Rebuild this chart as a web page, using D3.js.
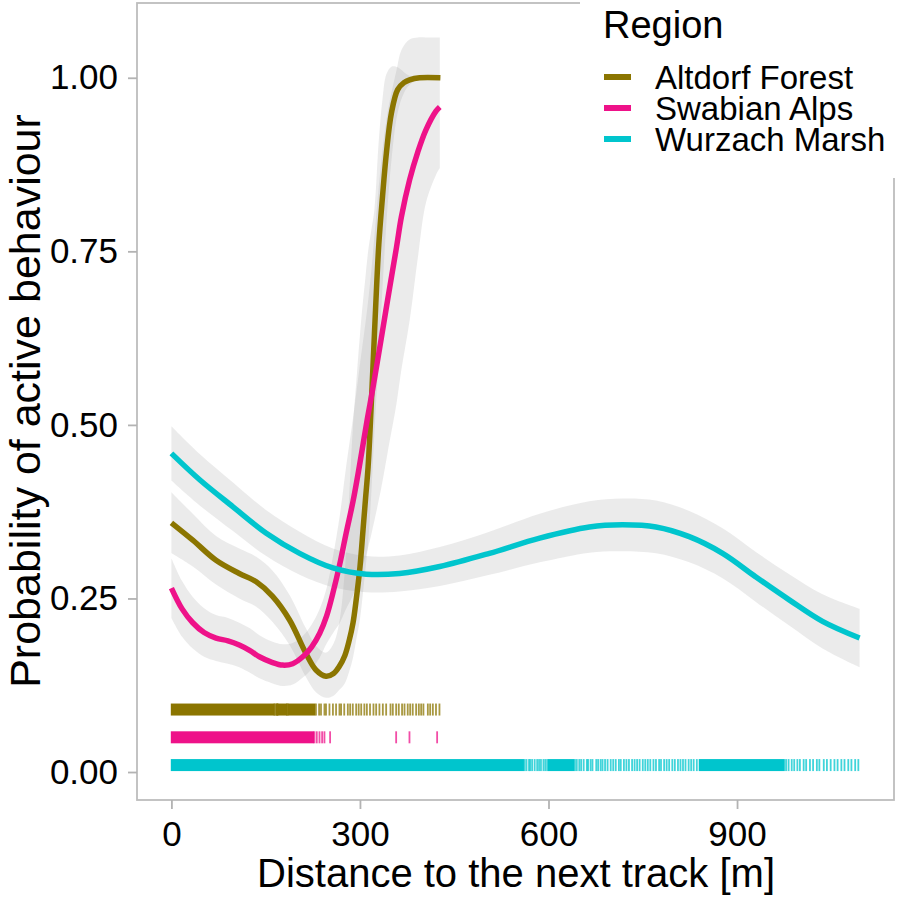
<!DOCTYPE html>
<html><head><meta charset="utf-8">
<script src="https://cdn.jsdelivr.net/npm/d3@7"></script>
<style>body{margin:0;background:#fff}svg{display:block}text{font-family:"Liberation Sans",Arial,sans-serif}</style>
</head><body><svg id="c" width="898" height="901"></svg>
<script>
// ---- data ----
const regions = ["Altdorf Forest", "Swabian Alps", "Wurzach Marsh"];
const colors = ["#8B7500", "#EE1289", "#00C5CD"];
const xTicks = [0, 300, 600, 900];
const yTicks = [0, 0.25, 0.5, 0.75, 1];

const goldX  = [0,34,71,108,135,161,188,214,230,246,258,267,276,283,289,294,300,305,309,313,318,323,330,336,342,350,360,370,379,395,428];
const goldY  = [0.359,0.334,0.305,0.286,0.274,0.253,0.219,0.171,0.147,0.138,0.142,0.152,0.168,0.19,0.215,0.248,0.295,0.35,0.395,0.44,0.53,0.63,0.76,0.83,0.891,0.949,0.983,0.993,0.997,1.0,1.0];
const goldHi = [0.403,0.372,0.340,0.322,0.31,0.29,0.255,0.207,0.182,0.172,0.185,0.215,0.29,0.4,0.5,0.56,0.63,0.68,0.715,0.75,0.78,0.81,0.91,0.97,1.005,1.016,1.015,1.008,1.003,1.001,1.001];
const goldLo = [0.315,0.296,0.27,0.25,0.238,0.216,0.183,0.137,0.115,0.107,0.11,0.118,0.128,0.145,0.165,0.19,0.22,0.26,0.295,0.33,0.4,0.49,0.6,0.7,0.79,0.88,0.95,0.978,0.99,0.998,0.999];

const pinkX  = [0,17,34,52,71,90,108,125,140,160,177,193,209,223,236,247,257,268,278,289,299,312,320,334,344,358,366,379,392,405,421,427];
const pinkY  = [0.265,0.235,0.215,0.201,0.193,0.189,0.183,0.175,0.166,0.158,0.154,0.156,0.166,0.18,0.2,0.225,0.258,0.3,0.344,0.39,0.44,0.51,0.55,0.625,0.68,0.755,0.80,0.853,0.893,0.925,0.952,0.958];
const pinkHi = [0.308,0.275,0.252,0.236,0.226,0.222,0.215,0.207,0.197,0.188,0.184,0.186,0.196,0.212,0.235,0.265,0.31,0.37,0.44,0.51,0.58,0.67,0.74,0.88,0.95,1.01,1.04,1.055,1.058,1.058,1.058,1.058];
const pinkLo = [0.222,0.195,0.178,0.166,0.16,0.156,0.151,0.143,0.135,0.128,0.124,0.126,0.136,0.148,0.165,0.185,0.2,0.215,0.235,0.255,0.28,0.32,0.35,0.41,0.46,0.53,0.58,0.65,0.74,0.82,0.86,0.87];

const cyanX  = [0,45,98,151,204,257,310,363,427,506,586,665,718,771,824,877,930,983,1036,1095];
const cyanY  = [0.459,0.421,0.382,0.344,0.315,0.294,0.285,0.286,0.296,0.315,0.337,0.353,0.356,0.353,0.339,0.315,0.281,0.248,0.217,0.193];
const cyanHi = [0.498,0.458,0.417,0.377,0.346,0.322,0.311,0.312,0.324,0.346,0.372,0.390,0.394,0.391,0.376,0.351,0.317,0.285,0.256,0.235];
const cyanLo = [0.420,0.384,0.347,0.311,0.284,0.266,0.259,0.260,0.268,0.284,0.302,0.316,0.318,0.315,0.302,0.279,0.245,0.211,0.178,0.151];

// rug (observation distances): dense stretches and single marks
const rugLevel = [0.09, 0.05, 0.01];
const goldRugDense = [[0,163],[167,183],[186,228]];
const goldRugTicks = [164,165,168,169,184,185,230,235,238,243.5,246,251.5,257,262,267.4,270,275,280.7,284.4,288.6,294,298,302,307,311,316,321.5,325.8,331,336.4,341.7,348.6,352.3,357.6,361.8,367,370.9,376,379.9,384,389.4,393.7,397.4,401,408,411.7,416,421,426.5];
const pinkRugDense = [[0,226]];
const pinkRugTicks = [227.6,231.3,235.6,239.8,243.5,252.5,357.6,378.8,422.8];
const cyanRugDense = [[0,560],[600,640],[840,975]];
const cyanRugTicks = [562,565,569,571,574,578,582,585,588,592,595,598,642,645,649,652,656,661,663,667,670,676,679,683,686,690,694,699,703,707,712,715,720,724,728,733,737,741,745,750,754,758,762,767,771,776,779,784,788,792,797,801,806,810,814,818,823,827,831,836,978,982,987,991,996,1000,1006,1010,1016,1021,1027,1031,1038,1043,1049,1055,1060,1066,1071,1077,1082,1088,1093];

// ---- drawing ----
const svg = d3.select("#c");
const x = d3.scaleLinear().domain([-54.75, 1149.75]).range([137, 894]);
const y = d3.scaleLinear().domain([-0.0403, 1.1077]).range([800, 3]);

const series = [
  {xs: goldX, ys: goldY, lo: goldLo, hi: goldHi, dense: goldRugDense, ticks: goldRugTicks},
  {xs: pinkX, ys: pinkY, lo: pinkLo, hi: pinkHi, dense: pinkRugDense, ticks: pinkRugTicks},
  {xs: cyanX, ys: cyanY, lo: cyanLo, hi: cyanHi, dense: cyanRugDense, ticks: cyanRugTicks}
];
const curve = d3.curveCatmullRom.alpha(0.5);

// panel border
svg.append("rect").attr("x",137).attr("y",3).attr("width",757).attr("height",797)
  .attr("fill","none").attr("stroke","#BDBDBD").attr("stroke-width",1.8);

// rug
series.forEach((s,i)=>{
  const g = svg.append("g");
  const yc = y(rugLevel[i]);
  g.selectAll("rect.d").data(s.dense).join("rect")
    .attr("x",d=>x(d[0])-0.6).attr("width",d=>x(d[1])-x(d[0])+1.2)
    .attr("y",yc-6).attr("height",12).attr("fill",colors[i]);
  g.selectAll("rect.t").data(s.ticks).join("rect")
    .attr("x",d=>x(d)-0.9).attr("width",1.8)
    .attr("y",yc-6).attr("height",12).attr("fill",colors[i]).attr("opacity",0.75);
});

// bands
series.forEach((s)=>{
  const pts = s.xs.map((d,j)=>[x(d), y(s.lo[j]), y(s.hi[j])]);
  svg.append("path").attr("d", d3.area().curve(curve).x(p=>p[0]).y0(p=>p[1]).y1(p=>p[2])(pts))
    .attr("fill","#999999").attr("opacity",0.2);
});
// lines
series.forEach((s,i)=>{
  const pts = s.xs.map((d,j)=>[x(d), y(s.ys[j])]);
  svg.append("path").attr("d", d3.line().curve(curve)(pts))
    .attr("fill","none").attr("stroke",colors[i]).attr("stroke-width",5.5);
});

// axes
const yAxis = svg.append("g").attr("transform","translate(137,0)")
  .call(d3.axisLeft(y).tickValues(yTicks).tickFormat(d3.format(".2f")).tickSize(9).tickPadding(10));
const xAxis = svg.append("g").attr("transform","translate(0,800)")
  .call(d3.axisBottom(x).tickValues(xTicks).tickFormat(d3.format("d")).tickSize(9).tickPadding(12));
[yAxis,xAxis].forEach(a=>{
  a.select(".domain").remove();
  a.selectAll(".tick line").attr("stroke","#B3B3B3").attr("stroke-width",1.8);
  a.selectAll(".tick text").attr("fill","#000").style("font-size","35px").style("font-family","'Liberation Sans',Arial,sans-serif");
});

// axis titles
svg.append("text").attr("x",516).attr("y",887).attr("text-anchor","middle")
  .style("font-size","40px").text("Distance to the next track [m]");
svg.append("text").attr("transform","translate(40,401) rotate(-90)").attr("text-anchor","middle")
  .style("font-size","43px").text("Probability of active behaviour");

// legend
const lg = svg.append("g");
lg.append("rect").attr("x",580).attr("y",0).attr("width",318).attr("height",178).attr("fill","#fff");
lg.append("text").attr("x",603).attr("y",38).style("font-size","38px").text("Region");
const rowBase = [89, 120, 151];
regions.forEach((r,i)=>{
  lg.append("line").attr("x1",604).attr("x2",631).attr("y1",rowBase[i]-12).attr("y2",rowBase[i]-12)
    .attr("stroke",colors[i]).attr("stroke-width",6);
  lg.append("text").attr("x",655).attr("y",rowBase[i]).style("font-size","33px").text(r);
});
</script></body></html>
